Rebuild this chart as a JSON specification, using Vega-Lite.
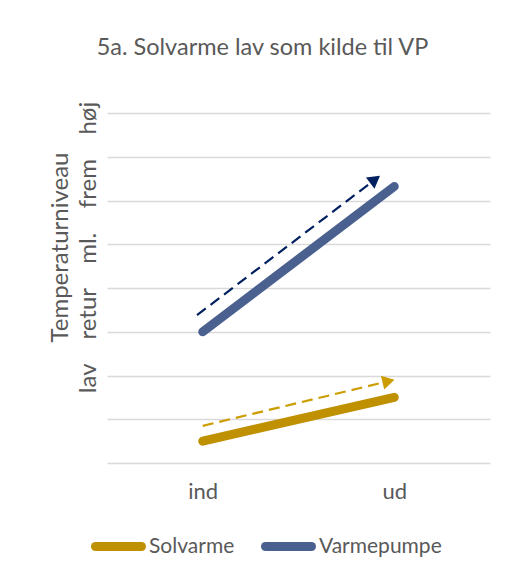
{
  "$schema": "https://vega.github.io/schema/vega-lite/v6.json",
  "width": 383,
  "height": 350,
  "autosize": {"type": "none"},
  "padding": {"left": 107, "top": 113, "right": 16, "bottom": 115},
  "background": "white",
  "title": {
    "text": "5a. Solvarme lav som kilde til VP",
    "anchor": "middle",
    "dx": -36,
    "offset": 42,
    "fontSize": 23.5,
    "fontWeight": "normal",
    "color": "#595959"
  },
  "datasets": {
    "linjer": [
      {"serie": "Solvarme", "punkt": "ind", "x": 0, "y": 0.5},
      {"serie": "Solvarme", "punkt": "ud", "x": 1, "y": 1.5},
      {"serie": "Varmepumpe", "punkt": "ind", "x": 0, "y": 3},
      {"serie": "Varmepumpe", "punkt": "ud", "x": 1, "y": 6.32}
    ],
    "pil_vp": [{"x": -0.03, "y": 3.38}, {"x": 0.9, "y": 6.48}],
    "pil_sol": [{"x": 0.0, "y": 0.85}, {"x": 0.97, "y": 1.87}],
    "spids_vp": [{"x": 0.9, "y": 6.48}],
    "spids_sol": [{"x": 0.97, "y": 1.87}]
  },
  "encoding": {
    "x": {
      "field": "x",
      "type": "quantitative",
      "scale": {"domain": [-0.5, 1.5], "nice": false, "zero": false},
      "axis": {
        "values": [0, 1],
        "labelExpr": "datum.value == 0 ? 'ind' : 'ud'",
        "grid": false,
        "domain": false,
        "ticks": false,
        "labelFontSize": 22,
        "labelColor": "#595959",
        "labelPadding": 18,
        "title": null
      }
    },
    "y": {
      "field": "y",
      "type": "quantitative",
      "scale": {"domain": [0, 8], "nice": false},
      "axis": {
        "values": [0, 1, 2, 3, 4, 5, 6, 7, 8],
        "labels": false,
        "ticks": false,
        "domain": false,
        "grid": true,
        "gridColor": "#D9D9D9",
        "gridWidth": 1.5,
        "title": ["Temperaturniveau", "lav\u00a0\u00a0\u00a0\u00a0retur\u00a0\u00a0\u00a0\u00a0ml.\u00a0\u00a0\u00a0\u00a0frem\u00a0\u00a0\u00a0\u00a0høj"],
        "titleFontSize": 24,
        "titleFontWeight": "normal",
        "titleColor": "#595959",
        "titleAngle": -90,
        "titleAlign": "center",
        "titleBaseline": "alphabetic",
        "titleX": -40,
        "titleY": 134,
        "titleLineHeight": 28
      }
    }
  },
  "layer": [
    {
      "data": {"name": "pil_vp"},
      "mark": {"type": "line", "color": "#002060", "strokeWidth": 2.2, "strokeDash": [11, 6]}
    },
    {
      "data": {"name": "pil_sol"},
      "mark": {"type": "line", "color": "#CC9C00", "strokeWidth": 2.2, "strokeDash": [11, 6]}
    },
    {
      "data": {"name": "spids_vp"},
      "mark": {"type": "point", "shape": "triangle-up", "filled": true, "opacity": 1, "size": 200, "angle": 52.8, "color": "#002060"}
    },
    {
      "data": {"name": "spids_sol"},
      "mark": {"type": "point", "shape": "triangle-up", "filled": true, "opacity": 1, "size": 200, "angle": 76.5, "color": "#CC9C00"}
    },
    {
      "data": {"name": "linjer"},
      "mark": {"type": "line", "strokeWidth": 9, "strokeCap": "round"},
      "encoding": {
        "color": {
          "field": "serie",
          "type": "nominal",
          "scale": {"domain": ["Solvarme", "Varmepumpe"], "range": ["#BF9000", "#4A6190"]},
          "legend": {
            "orient": "none",
            "direction": "horizontal",
            "legendX": -16,
            "legendY": 406,
            "title": null,
            "symbolType": "stroke",
            "symbolSize": 2116,
            "symbolStrokeWidth": 9,
            "labelFontSize": 21,
            "labelColor": "#595959",
            "labelOffset": 3,
            "columnPadding": 12,
            "gridAlign": "none",
            "padding": 0,
            "encode": {"symbols": {"update": {"strokeCap": {"value": "round"}}}}
          }
        }
      }
    }
  ],
  "config": {
    "font": "Lato",
    "view": {"stroke": null}
  }
}
